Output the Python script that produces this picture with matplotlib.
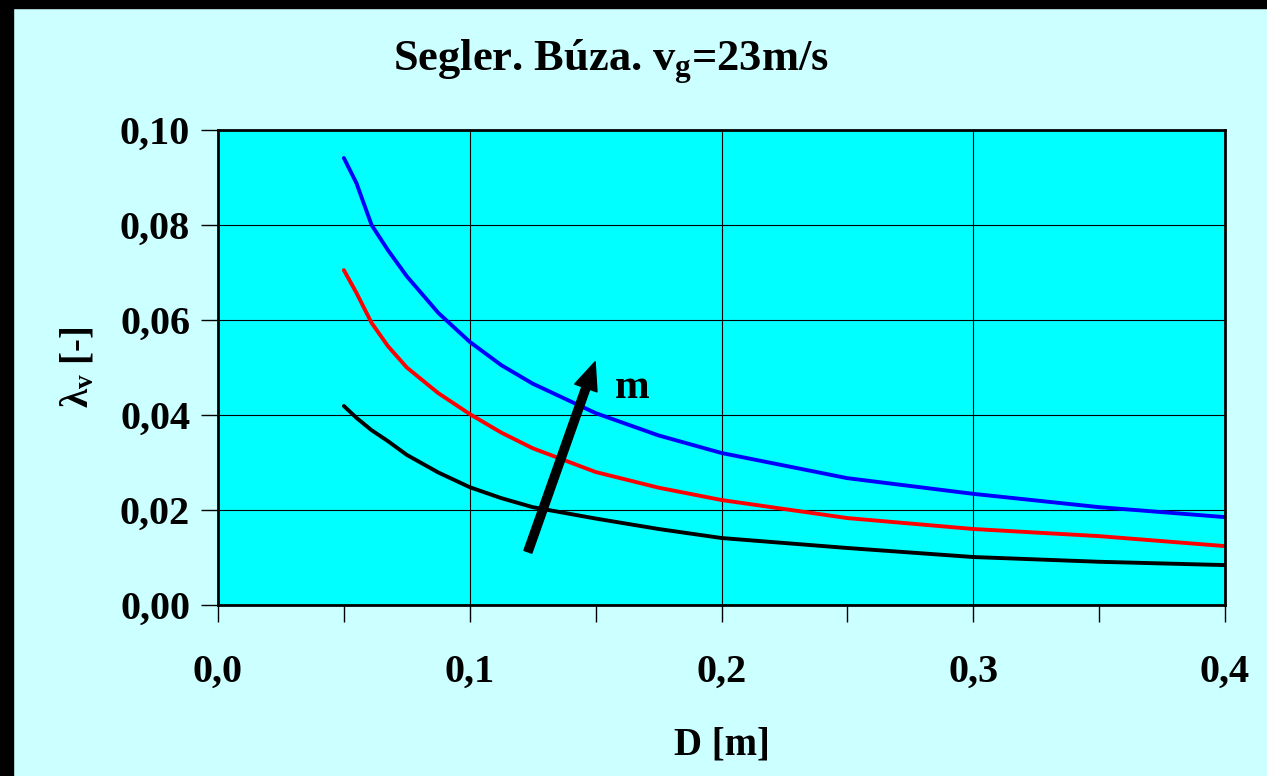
import numpy as np
import matplotlib
matplotlib.use('Agg')
import matplotlib.pyplot as plt
from matplotlib.patches import Rectangle
from matplotlib.ticker import FuncFormatter, MultipleLocator

# --- DATA ---
D = [0.05, 0.055, 0.061, 0.0675, 0.075, 0.0875, 0.10, 0.1125, 0.125, 0.15, 0.175,
     0.20, 0.25, 0.30, 0.35, 0.40]
lam_blue = [0.0941, 0.0888, 0.0800, 0.0747, 0.0692, 0.0615, 0.0554, 0.0505, 0.0466,
            0.0404, 0.0357, 0.0320, 0.0267, 0.0234, 0.0206, 0.0185]
lam_red = [0.0705, 0.0657, 0.0594, 0.0545, 0.0500, 0.0446, 0.0402, 0.0363, 0.0330,
           0.0280, 0.0247, 0.0221, 0.0183, 0.0160, 0.0145, 0.0124]
lam_black = [0.0419, 0.0394, 0.0368, 0.0345, 0.0316, 0.0279, 0.0248, 0.0225, 0.0206,
             0.0182, 0.0160, 0.0141, 0.0120, 0.0101, 0.0091, 0.0084]

arrow_tail = (0.1231, 0.0112)
arrow_tip = (0.1498, 0.0512)

# --- STYLE ---
plt.rcParams['font.family'] = ['Liberation Serif', 'DejaVu Serif']
plt.rcParams['font.weight'] = 'bold'
plt.rcParams['mathtext.fontset'] = 'custom'
plt.rcParams['mathtext.rm'] = 'Liberation Serif:bold'
plt.rcParams['mathtext.it'] = 'Liberation Serif:bold'
plt.rcParams['mathtext.bf'] = 'Liberation Serif:bold'

fig = plt.figure(figsize=(12.67, 7.76), dpi=100, facecolor='#CCFFFF')
ax = fig.add_axes([218/1267, 1-605/776, (1225-218)/1267, (605-130)/776])
ax.set_facecolor('#00FFFF')

# black frame left and top
fig.patches.append(Rectangle((0, 0), 13/1267, 1, transform=fig.transFigure, color='black', zorder=0))
fig.patches.append(Rectangle((0, 1-8/776), 1, 8/776, transform=fig.transFigure, color='black', zorder=0))

ax.plot(D, lam_blue, color='#0000FF', lw=2.8, solid_capstyle='round')
ax.plot(D, lam_red, color='#FF0000', lw=2.8, solid_capstyle='round')
ax.plot(D, lam_black, color='black', lw=2.8, solid_capstyle='round')

ax.annotate('', xy=arrow_tip, xytext=arrow_tail,
            arrowprops=dict(arrowstyle='simple,head_length=1.0,head_width=0.85,tail_width=0.3',
                            mutation_scale=20, color='black', shrinkA=0, shrinkB=0))
ax.text(0.1645, 0.0457, 'm', fontsize=30, fontweight='bold', ha='center', va='center')

ax.set_xlim(0, 0.4)
ax.set_ylim(0, 0.10)
ax.xaxis.set_major_locator(MultipleLocator(0.1))
ax.xaxis.set_minor_locator(MultipleLocator(0.05))
ax.yaxis.set_major_locator(MultipleLocator(0.02))
ax.xaxis.set_major_formatter(FuncFormatter(lambda v, p: f'{v:.1f}'.replace('.', ',')))
ax.yaxis.set_major_formatter(FuncFormatter(lambda v, p: f'{v:.2f}'.replace('.', ',')))
ax.grid(True, which='major', color='black', lw=0.8)
ax.tick_params(axis='both', which='both', direction='out', length=12, width=1, labelsize=29)
ax.tick_params(axis='x', which='major', pad=23)
ax.tick_params(axis='y', pad=8)
for s in ax.spines.values():
    s.set_linewidth(2)

ax.set_xlabel('D [m]', fontsize=28, fontweight='bold', labelpad=26)
ax.set_ylabel(r'$\lambda_v$ [-]', fontsize=28, fontweight='bold', labelpad=16)
fig.text(611/1267, 1-62/776, r'Segler. Búza. $v_g$=23m/s', fontsize=32, fontweight='bold',
         ha='center', va='center')

fig.savefig('out.png', dpi=100, facecolor=fig.get_facecolor())
